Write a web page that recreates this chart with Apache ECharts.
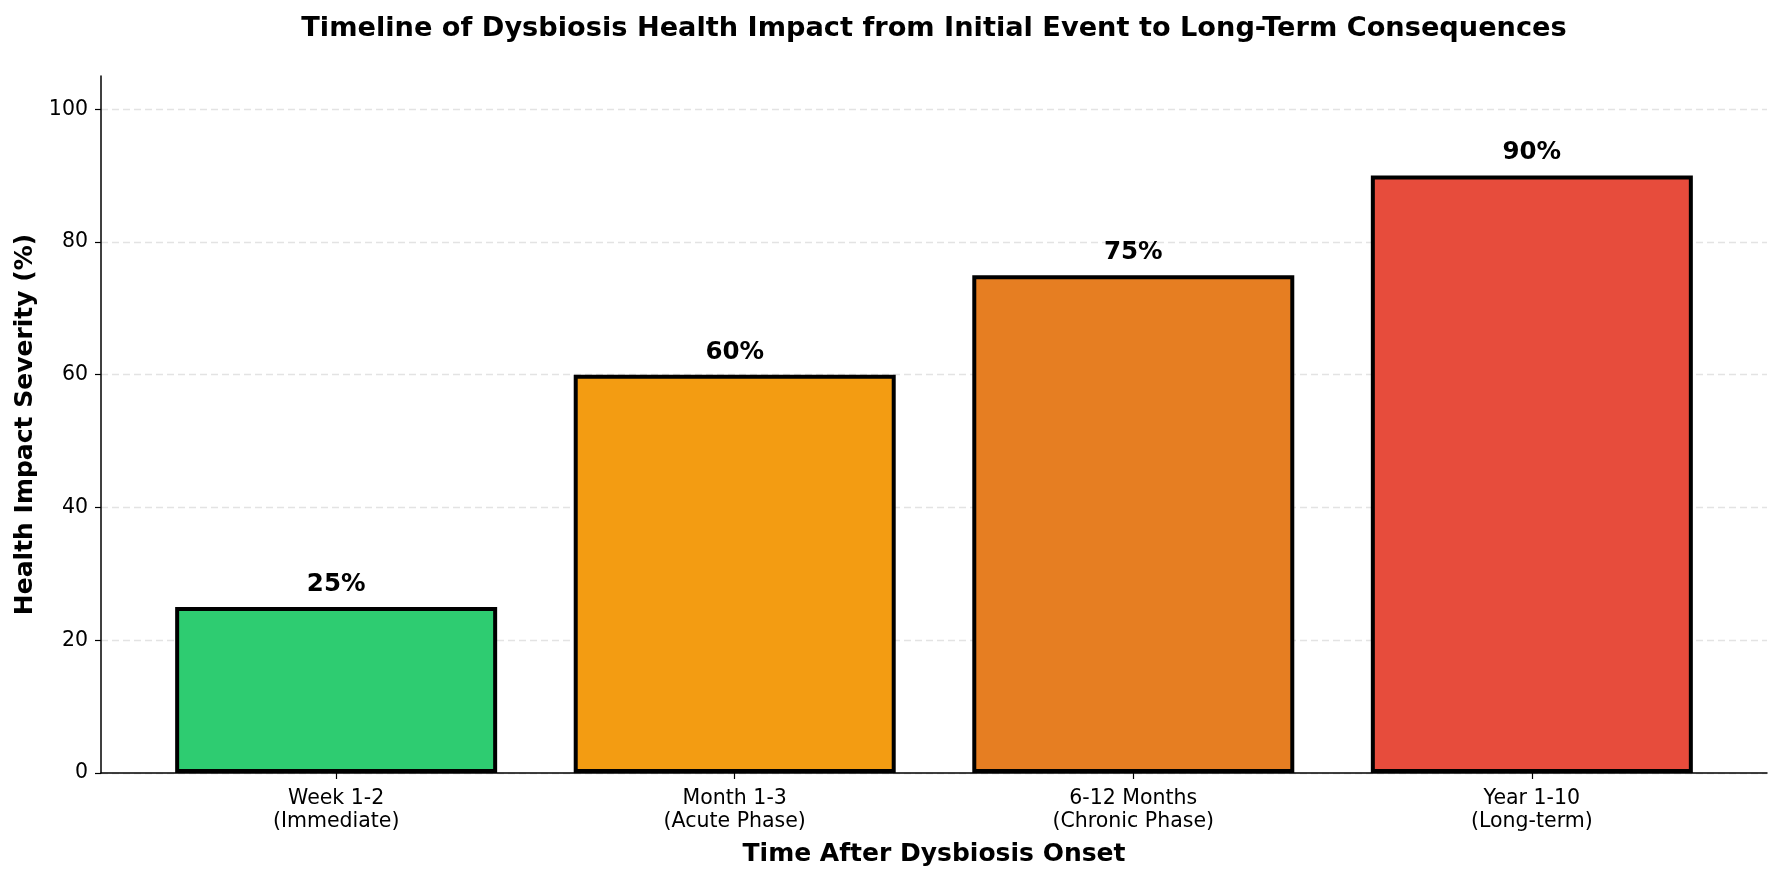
<!DOCTYPE html>
<html>
<head>
<meta charset="utf-8">
<script src="https://cdn.jsdelivr.net/npm/echarts@6/dist/echarts.min.js"></script>
<style>
html,body{margin:0;padding:0;background:#fff;}
#c{width:1782px;height:878px;}
</style>
</head>
<body>
<div id="c"></div>
<script>
const categories = ['Week 1-2\n(Immediate)', 'Month 1-3\n(Acute Phase)', '6-12 Months\n(Chronic Phase)', 'Year 1-10\n(Long-term)'];
const severity = [25, 60, 75, 90];
const barColors = ['#2ecc71', '#f39c12', '#e67e22', '#e74c3c'];
const yTicks = [0, 20, 40, 60, 80, 100];
const xPositions = [0, 1, 2, 3];

const chart = echarts.init(document.getElementById('c'), null, {renderer: 'canvas'});
const FONT = 'DejaVu Sans';

const option = {
  backgroundColor: '#ffffff',
  animation: false,
  title: {
    text: 'Timeline of Dysbiosis Health Impact from Initial Event to Long-Term Consequences',
    left: 929,
    textAlign: 'center',
    top: 10,
    textStyle: {fontFamily: FONT, fontSize: 27.2, fontWeight: 'bold', color: '#000'}
  },
  grid: {left: 101, right: 15, top: 76, bottom: 105, containLabel: false},
  xAxis: {
    type: 'value',
    min: -0.59,
    max: 3.59,
    name: 'Time After Dysbiosis Onset',
    nameLocation: 'middle',
    nameGap: 69,
    nameTextStyle: {fontFamily: FONT, fontSize: 25, fontWeight: 'bold', color: '#000'},
    axisLine: {show: true, onZero: false, lineStyle: {color: '#000', width: 1.5}},
    axisTick: {show: true, customValues: xPositions, length: 6, lineStyle: {color: '#000', width: 1.2}},
    axisLabel: {
      customValues: xPositions,
      formatter: v => categories[Math.round(v)] || '',
      fontFamily: FONT, fontSize: 20.5, color: '#000', lineHeight: 23, margin: 14
    },
    splitLine: {show: false}
  },
  yAxis: {
    type: 'value',
    min: 0,
    max: 105,
    name: 'Health Impact Severity (%)',
    nameLocation: 'middle',
    nameGap: 63,
    nameTextStyle: {fontFamily: FONT, fontSize: 25, fontWeight: 'bold', color: '#000'},
    axisLine: {show: true, onZero: false, lineStyle: {color: '#000', width: 1.5}},
    axisTick: {show: true, customValues: yTicks, length: 6, lineStyle: {color: '#000', width: 1.2}},
    axisLabel: {customValues: yTicks, fontFamily: FONT, fontSize: 20.5, color: '#000', margin: 13},
    splitLine: {show: true, lineStyle: {color: '#e3e3e3', type: [7, 4], width: 1.3}}
  },
  series: [{
    type: 'bar',
    barWidth: 322,
    data: severity.map((v, i) => ({
      value: [xPositions[i], v],
      itemStyle: {color: barColors[i], borderColor: '#000', borderWidth: 4}
    })),
    label: {
      show: true,
      position: 'top',
      distance: 10,
      formatter: p => p.value[1] + '%',
      fontFamily: FONT, fontSize: 24.5, fontWeight: 'bold', color: '#000'
    }
  }]
};
chart.setOption(option);
</script>
</body>
</html>
